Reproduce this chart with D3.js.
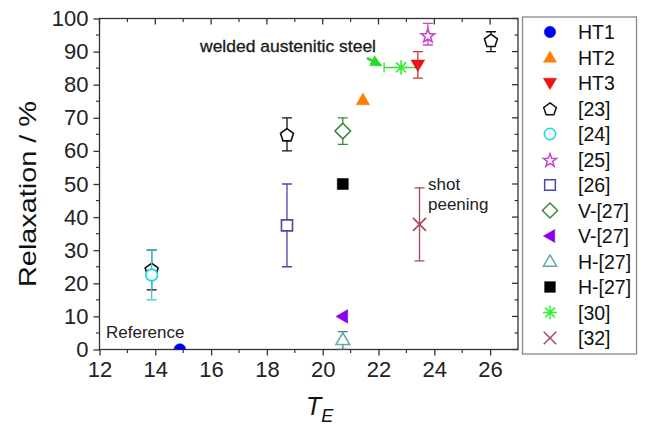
<!DOCTYPE html>
<html><head><meta charset="utf-8">
<script src="https://cdn.jsdelivr.net/npm/d3@7"></script>
<style>
html,body{margin:0;padding:0;background:#fff;}
text{font-family:"Liberation Sans",Arial,sans-serif;}
</style></head>
<body><svg id="chart" width="647" height="429"></svg>
<script>
// ---------- data ----------
const seriesLabels = ["HT1","HT2","HT3","[23]","[24]","[25]","[26]","V-[27]","V-[27]","H-[27]","H-[27]","[30]","[32]"];
const seriesShapes = ["circle","triUp","triDown","pentagon","circle","star","square","diamond","triLeft","triUp","square","asterisk","cross"];
const seriesFilled = [true,true,true,false,false,false,false,false,true,false,true,false,false];
const seriesColors = ["#0000ee","#ff8000","#ee1111","#111111","#11dddd","#cc44cc","#4a48a8","#3a8a3a","#8a00ee","#66a8a8","#000000","#33ee33","#a84858"];
const errColors    = ["#0000ee","#ff8000","#c83838","#111111","#33cccc","#cc44cc","#4a48a8","#3a8a3a","#8a00ee","#3f7f7f","#000000","#33dd33","#a84858"];
const seriesX   = [[14.88],[21.44],[23.41],[18.72,26.03,13.87],[13.87],[23.77],[18.72],[20.72],[20.72],[20.72],[20.72],[22.81],[23.47]];
const seriesY   = [[0],[75.4],[86],[65,93.5,24.3],[22.5],[95],[37.5],[66],[10],[3],[50],[85.2],[37.8]];
const errLow    = [[null],[null],[82],[60,90,18],[15],[92],[25],[62],[null],[0],[null],[null],[26.8]];
const errHigh   = [[null],[null],[90],[70,96,30],[30],[98.5],[50],[70],[null],[5.4],[null],[null],[48.8]];
const xErrLow   = [[null],[null],[null],[null,null,null],[null],[null],[null],[null],[null],[null],[null],[22.2],[null]];
const xErrHigh  = [[null],[null],[null],[null,null,null],[null],[null],[null],[null],[null],[null],[null],[23.4],[null]];
const xTicks = [12,14,16,18,20,22,24,26];
const yTicks = [0,10,20,30,40,50,60,70,80,90,100];
const xDomain = [12,27];
const yDomain = [0,100];

// ---------- layout ----------
const svg = d3.select("#chart");
const x = d3.scaleLinear().domain(xDomain).range([99.5,518]);
const y = d3.scaleLinear().domain(yDomain).range([349.5,18.5]);

function shapePath(type, r){
  const p = d3.path();
  const poly = pts => { pts.forEach((q,i)=> i?p.lineTo(q[0],q[1]):p.moveTo(q[0],q[1])); p.closePath(); };
  switch(type){
    case "circle": p.arc(0,0,r*0.9,0,2*Math.PI); break;
    case "triUp": poly([[0,-r*1.05],[r*1.05,r*0.75],[-r*1.05,r*0.75]]); break;
    case "triDown": poly([[0,r*1.05],[r*1.05,-r*0.75],[-r*1.05,-r*0.75]]); break;
    case "triLeft": poly([[-r*1.05,0],[r*0.75,-r*1.05],[r*0.75,r*1.05]]); break;
    case "square": poly([[-r*0.85,-r*0.85],[r*0.85,-r*0.85],[r*0.85,r*0.85],[-r*0.85,r*0.85]]); break;
    case "diamond": poly([[0,-r*1.2],[r*1.2,0],[0,r*1.2],[-r*1.2,0]]); break;
    case "pentagon": { const pts=[]; for(let i=0;i<5;i++){const a=-Math.PI/2+i*2*Math.PI/5; pts.push([r*1.05*Math.cos(a), r*1.05*Math.sin(a)+1]);} poly(pts); break; }
    case "star": { const pts=[]; for(let i=0;i<10;i++){const a=-Math.PI/2+i*Math.PI/5; const rr = i%2? r*0.45 : r*1.1; pts.push([rr*Math.cos(a), rr*Math.sin(a)+1]);} poly(pts); break; }
    case "asterisk": for(let i=0;i<4;i++){const a=i*Math.PI/4; p.moveTo(-r*1.1*Math.cos(a),-r*1.1*Math.sin(a)); p.lineTo(r*1.1*Math.cos(a),r*1.1*Math.sin(a));} break;
    case "cross": p.moveTo(-r,-r); p.lineTo(r,r); p.moveTo(-r,r); p.lineTo(r,-r); break;
  }
  return p.toString();
}

// clip for plot area
svg.append("defs").append("clipPath").attr("id","plotclip")
  .append("rect").attr("x",x(12)).attr("y",y(100)-8).attr("width",x(27)-x(12)+8).attr("height",y(0)-y(100)+8);

// ---------- axes ----------
const axisColor = "#333";
const ax = svg.append("g").attr("class","axes");
ax.append("rect").attr("x",x(12)).attr("y",y(100)).attr("width",x(27)-x(12)).attr("height",y(0)-y(100))
  .attr("fill","none").attr("stroke",axisColor).attr("stroke-width",1.3);

const xMinor = d3.range(13,27,2);
const yMinor = d3.range(5,100,10);
const bottom = d3.axisBottom(x).tickValues(xTicks).tickSize(6).tickPadding(6).tickFormat(d3.format("d"));
const gB = svg.append("g").attr("transform",`translate(0,${y(0)})`).call(bottom);
gB.select(".domain").remove();
gB.selectAll(".tick line").attr("stroke",axisColor).attr("stroke-width",1.3);
gB.selectAll(".tick text").attr("font-size",22).attr("fill","#222").attr("font-family","Liberation Sans, Arial, sans-serif");
gB.append("g").selectAll("line").data(xMinor).join("line")
  .attr("x1",d=>x(d)).attr("x2",d=>x(d)).attr("y1",0).attr("y2",3.5).attr("stroke",axisColor).attr("stroke-width",1.2);
const left = d3.axisLeft(y).tickValues(yTicks).tickSize(6).tickPadding(5).tickFormat(d3.format("d"));
const gL = svg.append("g").attr("transform",`translate(${x(12)},0)`).call(left);
gL.select(".domain").remove();
gL.selectAll(".tick line").attr("stroke",axisColor).attr("stroke-width",1.3);
gL.selectAll(".tick text").attr("font-size",22).attr("fill","#222").attr("font-family","Liberation Sans, Arial, sans-serif");
gL.append("g").selectAll("line").data(yMinor).join("line")
  .attr("y1",d=>y(d)).attr("y2",d=>y(d)).attr("x1",0).attr("x2",-3.5).attr("stroke",axisColor).attr("stroke-width",1.2);
const gT = svg.append("g");
gT.selectAll("line.maj").data(xTicks).join("line").attr("class","maj")
  .attr("x1",d=>x(d)).attr("x2",d=>x(d)).attr("y1",y(100)).attr("y2",y(100)+6).attr("stroke",axisColor).attr("stroke-width",1.3);
gT.selectAll("line.min").data(xMinor).join("line").attr("class","min")
  .attr("x1",d=>x(d)).attr("x2",d=>x(d)).attr("y1",y(100)).attr("y2",y(100)+3.5).attr("stroke",axisColor).attr("stroke-width",1.2);
const gR = svg.append("g");
gR.selectAll("line.maj").data(yTicks).join("line").attr("class","maj")
  .attr("y1",d=>y(d)).attr("y2",d=>y(d)).attr("x1",x(27)).attr("x2",x(27)-6).attr("stroke",axisColor).attr("stroke-width",1.3);
gR.selectAll("line.min").data(yMinor).join("line").attr("class","min")
  .attr("y1",d=>y(d)).attr("y2",d=>y(d)).attr("x1",x(27)).attr("x2",x(27)-3.5).attr("stroke",axisColor).attr("stroke-width",1.2);

// axis titles
svg.append("text").attr("transform","translate(36,194) rotate(-90)").attr("text-anchor","middle")
  .attr("font-size",24).attr("textLength",186).attr("lengthAdjust","spacingAndGlyphs")
  .attr("fill","#111").text("Relaxation / %");
const xt = svg.append("text").attr("x",306).attr("y",415).attr("font-size",25).attr("fill","#111").attr("font-style","italic");
xt.append("tspan").text("T");
xt.append("tspan").attr("font-size",18).attr("dy",7).text("E");

// ---------- data marks ----------
const plot = svg.append("g").attr("clip-path","url(#plotclip)");
const drawOrder = [3,4,5,6,7,8,9,10,11,12,0,1,2];
const capW = 5;
drawOrder.forEach(si=>{
  const g = plot.append("g");
  const pts = seriesX[si].map((xv,i)=>({x:xv,y:seriesY[si][i],lo:errLow[si][i],hi:errHigh[si][i],xl:xErrLow[si][i],xh:xErrHigh[si][i]}));
  const shape = seriesShapes[si];
  const filled = seriesFilled[si];
  const col = seriesColors[si];
  const ecol = errColors[si];
  const drawMarker = ()=> g.selectAll("path.m").data(pts).join("path").attr("class","m")
      .attr("transform",d=>`translate(${x(d.x)},${y(d.y)})`)
      .attr("d",shapePath(shape,6.5))
      .attr("fill", filled? col : (shape==="asterisk"||shape==="cross" ? "none" : "#fff"))
      .attr("stroke", col).attr("stroke-width", filled?0.5:1.6);
  const drawErr = ()=>{
    const eb = g.selectAll("g.e").data(pts.filter(d=>d.lo!==null)).join("g").attr("class","e");
    eb.append("line").attr("x1",d=>x(d.x)).attr("x2",d=>x(d.x)).attr("y1",d=>y(d.lo)).attr("y2",d=>y(d.hi)).attr("stroke",ecol).attr("stroke-width",1.3);
    eb.append("line").attr("x1",d=>x(d.x)-capW).attr("x2",d=>x(d.x)+capW).attr("y1",d=>y(d.lo)).attr("y2",d=>y(d.lo)).attr("stroke",ecol).attr("stroke-width",1.3);
    eb.append("line").attr("x1",d=>x(d.x)-capW).attr("x2",d=>x(d.x)+capW).attr("y1",d=>y(d.hi)).attr("y2",d=>y(d.hi)).attr("stroke",ecol).attr("stroke-width",1.3);
    const xb = g.selectAll("g.xe").data(pts.filter(d=>d.xl!==null)).join("g").attr("class","xe");
    xb.append("line").attr("x1",d=>x(d.xl)).attr("x2",d=>x(d.xh)).attr("y1",d=>y(d.y)).attr("y2",d=>y(d.y)).attr("stroke",ecol).attr("stroke-width",1.3);
    xb.append("line").attr("x1",d=>x(d.xl)).attr("x2",d=>x(d.xl)).attr("y1",d=>y(d.y)-capW).attr("y2",d=>y(d.y)+capW).attr("stroke",ecol).attr("stroke-width",1.3);
  };
  if(filled){ drawMarker(); drawErr(); } else { drawErr(); drawMarker(); }
});

// ---------- annotations ----------
svg.append("text").attr("x",106).attr("y",338).attr("font-size",17).attr("fill","#222").text("Reference");
svg.append("text").attr("x",200).attr("y",52).attr("font-size",17).attr("textLength",176).attr("lengthAdjust","spacingAndGlyphs")
  .attr("fill","#1a1a1a").attr("stroke","#1a1a1a").attr("stroke-width",0.3).text("welded austenitic steel");
svg.append("text").attr("x",428).attr("y",190).attr("font-size",17).attr("fill","#222").text("shot");
svg.append("text").attr("x",428).attr("y",210).attr("font-size",17).attr("fill","#222").text("peening");
svg.append("defs").append("marker").attr("id","arrowG").attr("viewBox","0 0 10 10").attr("refX",9).attr("refY",5)
  .attr("markerWidth",4.5).attr("markerHeight",4.5).attr("orient","auto")
  .append("path").attr("d","M0,0 L10,5 L0,10 z").attr("fill","#22dd22");
svg.append("line").attr("x1",367).attr("y1",58).attr("x2",381).attr("y2",65.5)
  .attr("stroke","#22dd22").attr("stroke-width",2.6).attr("marker-end","url(#arrowG)");

// ---------- legend ----------
const lg = svg.append("g");
lg.append("rect").attr("x",522.5).attr("y",17).attr("width",114).attr("height",337)
  .attr("fill","#fff").attr("stroke","#888").attr("stroke-width",1.3);
seriesLabels.forEach((lab,i)=>{
  const cy = 32 + i*25.5;
  const shape = seriesShapes[i];
  const filled = seriesFilled[i];
  lg.append("path").attr("transform",`translate(550,${cy})`).attr("d",shapePath(shape,6.3))
    .attr("fill", filled? seriesColors[i] : (shape==="asterisk"||shape==="cross" ? "none" : "#fff"))
    .attr("stroke",seriesColors[i]).attr("stroke-width",filled?0.5:1.5);
  lg.append("text").attr("x",578).attr("y",cy+7).attr("font-size",19.5).attr("fill","#111").text(lab);
});
</script></body></html>
